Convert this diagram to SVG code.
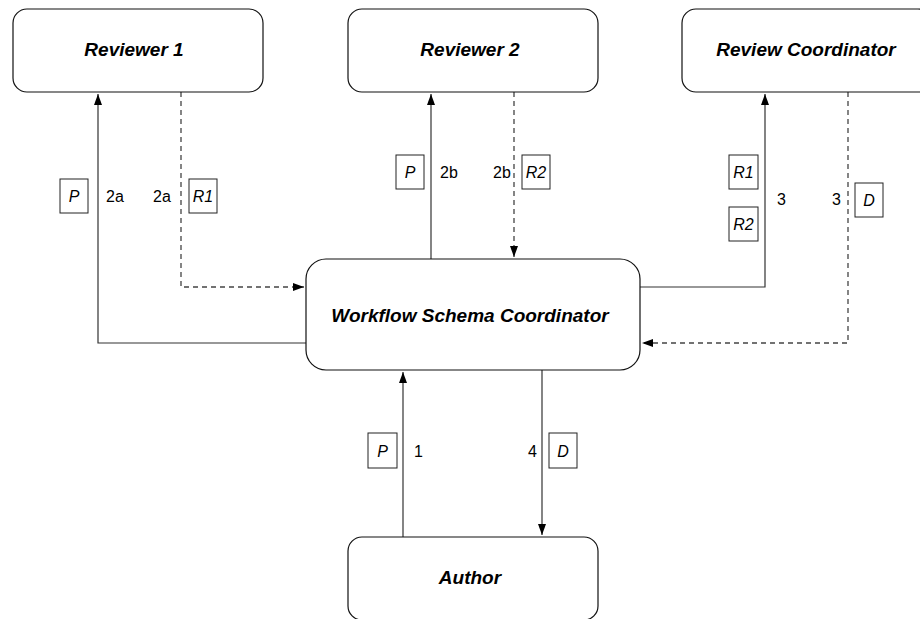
<svg xmlns="http://www.w3.org/2000/svg" width="920" height="619" viewBox="0 0 920 619">
<style>
.node rect{fill:#fff;stroke:#111;stroke-width:1.2}
.title{font-family:"Liberation Sans",Arial,sans-serif;font-size:19px;font-weight:bold;font-style:italic;fill:#000;text-anchor:middle}
.lbl{font-family:"Liberation Sans",Arial,sans-serif;font-size:16px;fill:#000}
.tok rect{fill:#fff;stroke:#222;stroke-width:1}
.tok text{font-family:"Liberation Sans",Arial,sans-serif;font-size:16px;font-style:italic;fill:#000;text-anchor:middle}
.solid{fill:none;stroke:#333;stroke-width:1.2}
.dash{fill:none;stroke:#444;stroke-width:1.3;stroke-dasharray:5,4}
</style>
<defs>
<marker id="arr" markerUnits="userSpaceOnUse" markerWidth="11" markerHeight="8" refX="11" refY="4" orient="auto">
<path d="M0,0 L11,4 L0,8 z" fill="#000"/>
</marker>
</defs>
<g id="connectors">
<path class="solid" d="M306,343 H98 V94" marker-end="url(#arr)"/>
<path class="dash" d="M181,92 V287 H304" marker-end="url(#arr)"/>
<path class="solid" d="M431,259 V94" marker-end="url(#arr)"/>
<path class="dash" d="M514,92 V257" marker-end="url(#arr)"/>
<path class="solid" d="M640,287 H765 V94" marker-end="url(#arr)"/>
<path class="dash" d="M848,92 V343 H642" marker-end="url(#arr)"/>
<path class="solid" d="M403,537 V372" marker-end="url(#arr)"/>
<path class="solid" d="M542,370 V535" marker-end="url(#arr)"/>
</g>
<g id="reviewer1" class="node"><rect x="13" y="9" width="250" height="83" rx="14"/><text class="title" x="134" y="56">Reviewer 1</text></g>
<g id="reviewer2" class="node"><rect x="348" y="9" width="250" height="83" rx="14"/><text class="title" x="470" y="56">Reviewer 2</text></g>
<g id="reviewCoordinator" class="node"><rect x="682" y="9" width="250" height="83" rx="14"/><text class="title" x="806" y="56">Review Coordinator</text></g>
<g id="workflowSchemaCoordinator" class="node"><rect x="306" y="259" width="334" height="111" rx="20"/><text class="title" x="470" y="322">Workflow Schema Coordinator</text></g>
<g id="author" class="node"><rect x="348" y="537" width="250" height="83" rx="14"/><text class="title" x="470" y="584">Author</text></g>
<g id="labels">
<g class="tok"><rect x="60" y="179" width="28" height="34"/><text x="74" y="202">P</text></g>
<text class="lbl" x="106" y="202">2a</text>
<text class="lbl" x="153" y="202">2a</text>
<g class="tok"><rect x="189" y="179" width="28" height="34"/><text x="203" y="202">R1</text></g>
<g class="tok"><rect x="396" y="155" width="28" height="34"/><text x="410" y="178">P</text></g>
<text class="lbl" x="440" y="178">2b</text>
<text class="lbl" x="493" y="178">2b</text>
<g class="tok"><rect x="522" y="155" width="28" height="34"/><text x="536" y="178">R2</text></g>
<g class="tok"><rect x="729" y="155" width="29" height="34"/><text x="743.5" y="178">R1</text></g>
<g class="tok"><rect x="729" y="207" width="29" height="34"/><text x="743.5" y="230">R2</text></g>
<text class="lbl" x="777" y="205">3</text>
<text class="lbl" x="832" y="205">3</text>
<g class="tok"><rect x="855" y="183" width="28" height="34"/><text x="869" y="206">D</text></g>
<g class="tok"><rect x="368" y="433" width="29" height="35"/><text x="382.5" y="457">P</text></g>
<text class="lbl" x="414" y="457">1</text>
<text class="lbl" x="528" y="457">4</text>
<g class="tok"><rect x="549" y="433" width="28" height="35"/><text x="563" y="457">D</text></g>
</g>
</svg>
